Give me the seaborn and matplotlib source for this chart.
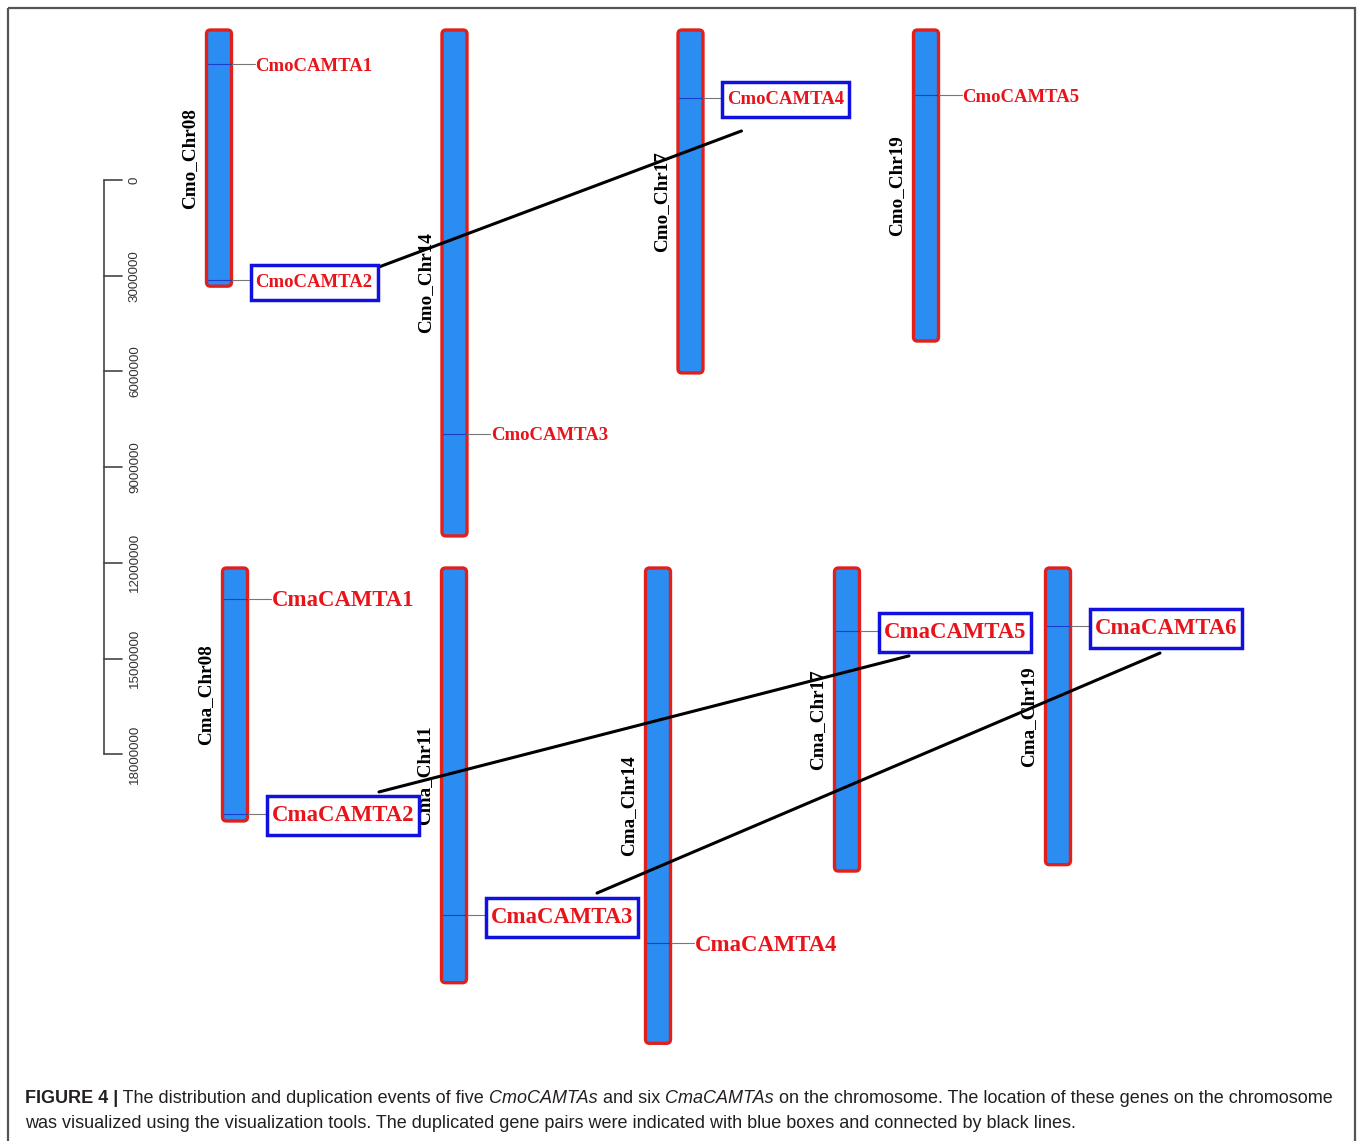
import matplotlib
matplotlib.use("Agg")
import matplotlib.pyplot as plt
import numpy as np
import pandas as pd
import seaborn as sns
from matplotlib.patches import FancyBboxPatch, Rectangle

# ---- data: chromosome lengths (bp) ----
cmo_chroms = ["Cmo_Chr08", "Cmo_Chr14", "Cmo_Chr17", "Cmo_Chr19"]
cmo_lengths = [8.03e6, 15.86e6, 10.75e6, 9.75e6]
cma_chroms = ["Cma_Chr08", "Cma_Chr11", "Cma_Chr14", "Cma_Chr17", "Cma_Chr19"]
cma_lengths = [7.93e6, 13.0e6, 14.9e6, 9.5e6, 9.3e6]

# ---- data: gene locations (bp) ----
gene_names = ["CmoCAMTA1", "CmoCAMTA2", "CmoCAMTA3", "CmoCAMTA4", "CmoCAMTA5",
              "CmaCAMTA1", "CmaCAMTA2", "CmaCAMTA3", "CmaCAMTA4", "CmaCAMTA5", "CmaCAMTA6"]
gene_chroms = ["Cmo_Chr08", "Cmo_Chr08", "Cmo_Chr14", "Cmo_Chr17", "Cmo_Chr19",
               "Cma_Chr08", "Cma_Chr08", "Cma_Chr11", "Cma_Chr14", "Cma_Chr17", "Cma_Chr19"]
gene_pos = [1.07e6, 7.84e6, 12.66e6, 2.13e6, 2.04e6,
            0.97e6, 7.71e6, 10.88e6, 11.76e6, 1.97e6, 1.82e6]

# segmental duplication pairs
dup_pairs = [("CmoCAMTA2", "CmoCAMTA4"),
             ("CmaCAMTA2", "CmaCAMTA5"),
             ("CmaCAMTA3", "CmaCAMTA6")]

scale_ticks = [0, 3000000, 6000000, 9000000, 12000000, 15000000, 18000000]

# ---- layout (figure pixels) ----
W, H = 1358, 1141
px_per_bp = 95.7 / 3e6
chrom_w = 25
label_gap = 24
cmo_x = [219, 454.5, 690.5, 926]
cma_x = [235, 454, 658, 847, 1058]
cmo_top, cma_top = 30, 568
scale_x, scale_top = 104, 180
chrom_label_dx = -29
box_pad_x, box_pad_y = 5, 10
label_dy = 2

# where each link leaves/arrives relative to (label start, gene y)
link_anchor = {"CmoCAMTA2": (120.5, -12), "CmoCAMTA4": (14.5, 33),
               "CmaCAMTA2": (107.5, -22), "CmaCAMTA5": (25.5, 25),
               "CmaCAMTA3": (106.5, -22), "CmaCAMTA6": (65.5, 27)}

RED_TXT = "#e8141b"
CHR_EDGE = "#e0201c"
CHR_FILL = "#2b8cf2"
BOX_BLUE = "#1010e0"

sns.set_theme(style="white")
plt.rcParams["font.family"] = ["Liberation Serif", "DejaVu Serif"]

fig = plt.figure(figsize=(W / 100, H / 100), dpi=100)
ax = fig.add_axes([0, 0, 1, 1])
ax.set_xlim(0, W)
ax.set_ylim(H, 0)
ax.axis("off")

# outer frame
ax.add_patch(Rectangle((8, 8), 1347, 1300, fill=False, ec="#555555", lw=1.6, zorder=1))

# chromosome geometry
chrom_info = {}
for names, lengths, xs, top, fs in [(cmo_chroms, cmo_lengths, cmo_x, cmo_top, 13.5),
                                    (cma_chroms, cma_lengths, cma_x, cma_top, 16.4)]:
    for n, L, xc in zip(names, lengths, xs):
        h = L * px_per_bp
        chrom_info[n] = dict(x=xc, top=top, fs=fs)
        ax.add_patch(FancyBboxPatch((xc - chrom_w / 2, top), chrom_w, h,
                                    boxstyle="round,pad=0,rounding_size=4",
                                    fc=CHR_FILL, ec=CHR_EDGE, lw=2.4, zorder=3))
        ax.text(xc + chrom_label_dx, top + h / 2, n, rotation=90, ha="center",
                va="center", fontsize=13.8, fontweight="bold", color="black", zorder=6)

# genes
dup_genes = {g for p in dup_pairs for g in p}
gene_xy = {}
boxed_texts = []
for g, c, p in zip(gene_names, gene_chroms, gene_pos):
    info = chrom_info[c]
    y = info["top"] + p * px_per_bp
    left = info["x"] - chrom_w / 2
    right = info["x"] + chrom_w / 2
    tx = right + label_gap
    ax.plot([left + 1, right - 1], [y, y], color="#1b3fc8", lw=0.8, zorder=4)
    ax.plot([right, tx - 1], [y, y], color="#777777", lw=0.8, zorder=4)
    t = ax.text(tx, y + label_dy, g, ha="left", va="center", fontsize=info["fs"],
                fontweight="bold", color=RED_TXT, zorder=7)
    if g in dup_genes:
        boxed_texts.append(t)
    gene_xy[g] = (tx, y)

# blue frames around duplicated genes
fig.canvas.draw()
renderer = fig.canvas.get_renderer()
inv = ax.transData.inverted()
for t in boxed_texts:
    bb = t.get_window_extent(renderer)
    (x0, y0), (x1, y1) = inv.transform([(bb.x0, bb.y0), (bb.x1, bb.y1)])
    ylo, yhi = min(y0, y1), max(y0, y1)
    ax.add_patch(Rectangle((x0 - box_pad_x, ylo - box_pad_y + 1),
                           (x1 - x0) + 2 * box_pad_x, (yhi - ylo) + 2 * box_pad_y - 2,
                           fc="white", ec=BOX_BLUE, lw=2.5, zorder=6.5))

# duplication links
rows = []
for i, (a, b) in enumerate(dup_pairs):
    for g in (a, b):
        tx, y = gene_xy[g]
        dx, dy = link_anchor[g]
        rows.append(dict(pair=i, x=tx + dx, y=y + dy))
links = pd.DataFrame(rows)
sns.lineplot(data=links, x="x", y="y", units="pair", estimator=None, sort=False,
             color="black", lw=2.2, ax=ax, zorder=5, legend=False)
ax.set_xlim(0, W)
ax.set_ylim(H, 0)
ax.axis("off")

# physical scale bar
sy = [scale_top + t * px_per_bp for t in scale_ticks]
ax.plot([scale_x, scale_x], [sy[0], sy[-1]], color="#444444", lw=1.2, zorder=2)
for t, yy in zip(scale_ticks, sy):
    ax.plot([scale_x, scale_x + 18], [yy, yy], color="#444444", lw=1.2, zorder=2)
    ax.text(scale_x + 31, yy, f"{t}", rotation=90, ha="center", va="center",
            fontsize=9.6, family=["Liberation Sans", "DejaVu Sans"], color="#333333")

# caption
cap_kw = dict(fontsize=12.95, color="#231f20", family=["Liberation Sans", "DejaVu Sans"])
line1 = [("FIGURE 4 |", "bold", "normal"),
         (" The distribution and duplication events of five ", "normal", "normal"),
         ("CmoCAMTAs", "normal", "italic"),
         (" and six ", "normal", "normal"),
         ("CmaCAMTAs", "normal", "italic"),
         (" on the chromosome. The location of these genes on the chromosome", "normal", "normal")]
prev = None
for txt, wt, st in line1:
    if prev is None:
        prev = ax.text(25, 1107, txt, ha="left", va="bottom", fontweight=wt,
                       fontstyle=st, **cap_kw)
    else:
        prev = ax.annotate(txt, xy=(1, 0), xycoords=prev, ha="left", va="bottom",
                           fontweight=wt, fontstyle=st, **cap_kw)
ax.text(25, 1132, "was visualized using the visualization tools. The duplicated gene "
        "pairs were indicated with blue boxes and connected by black lines.",
        ha="left", va="bottom", **cap_kw)

fig.savefig("out.png", dpi=100)
